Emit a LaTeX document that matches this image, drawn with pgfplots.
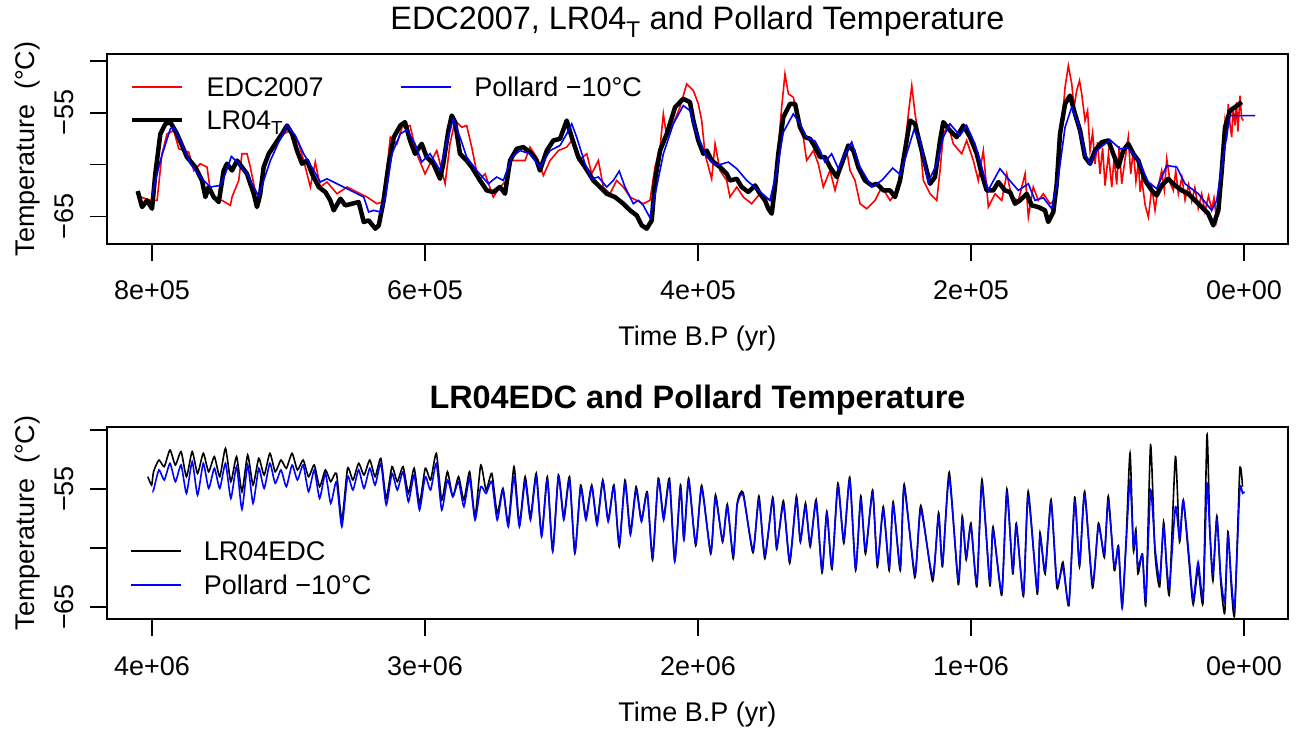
\documentclass[border=0pt]{standalone}
\usepackage{pgfplots}
\pgfplotsset{compat=1.18}
\usepackage{fontspec}
\setmainfont{Liberation Sans}
\begin{document}
\begin{tikzpicture}
\path[use as bounding box] (0,0) rectangle (1301bp,731bp);
\pgfplotsset{
  rstyle/.style={
    scale only axis, width=1181bp,
    font=\fontsize{27bp}{32bp}\selectfont,
    axis line style={line width=1.4bp},
    every tick/.style={line width=1.4bp, black},
    major tick length=17bp,
    tick align=outside,
    tick pos=left,
    x dir=reverse,
    every axis x label/.style={at={(axis description cs:0.5,0)}, anchor=base, yshift=-102bp},
    every axis y label/.style={at={(axis description cs:0,0.5)}, xshift=-72bp, rotate=90, anchor=base},
    xticklabel style={anchor=base, yshift=-39bp, inner sep=0pt},
    yticklabel style={xshift=-16bp, rotate=90, anchor=base, inner sep=0pt},
    xlabel={Time B.P (yr)},
    ylabel={Temperature\ \ (°C)},
    ytick={-65,-60,-55,-50},
    yticklabels={−65,,−55,},
    legend cell align=left,
    legend image code/.code={\draw[##1] (0bp,2.7bp) -- (50bp,2.7bp);},
  }
}
\begin{axis}[rstyle, at={(107bp,487bp)}, anchor=south west, height=190bp,
  xmin=-32.2, xmax=833.0, ymin=-67.63, ymax=-49.33,
  xtick={0,200,400,600,800}, xticklabels={0e+00,2e+05,4e+05,6e+05,8e+05},
  every axis title/.style={at={(axis description cs:0.5,1)}, anchor=base, yshift=24bp, font=\fontsize{32.4bp}{38bp}\selectfont},
  title={EDC2007, LR04\textsubscript{T} and Pollard Temperature},
  legend style={draw=none, fill=none, inner sep=0pt, outer sep=0pt, at={(0.0195,0.8805)}, anchor=north west,
    nodes={inner sep=0pt, text height=20bp, text depth=6bp},
    /tikz/every odd column/.append style={column sep=22bp},
    /tikz/every even column/.append style={column sep=77bp},
    row sep=7bp},
  legend columns=2]
\addlegendimage{red, line width=1.8bp}
\addlegendentry{EDC2007}
\addlegendimage{blue, line width=1.8bp}
\addlegendentry{Pollard −10°C}
\addlegendimage{black, line width=4.5bp}
\addlegendentry{LR04\textsubscript{T}}
% EDC2007
\addplot[red, line width=1.6bp, forget plot] table {
808.6 -63.08
801.2 -63.43
796.3 -63.43
792.7 -58.94
789.0 -57.02
784.1 -56.70
780.4 -58.46
773.1 -58.78
769.4 -60.55
764.6 -59.90
759.7 -60.22
757.3 -62.47
752.4 -63.43
748.7 -63.43
742.6 -63.91
741.4 -63.11
736.5 -61.51
734.1 -58.94
730.4 -58.94
728.0 -60.22
724.5 -62.47
720.7 -63.43
718.2 -60.55
714.5 -58.94
708.4 -57.98
703.5 -57.02
698.7 -56.70
692.5 -57.98
688.9 -59.59
684.0 -62.14
680.4 -59.74
676.7 -62.14
671.8 -61.66
664.5 -62.79
657.1 -62.14
652.2 -62.47
647.4 -62.79
642.5 -63.11
638.8 -63.43
635.2 -63.75
631.5 -63.59
627.8 -60.22
625.4 -57.34
620.5 -57.98
616.8 -56.38
611.0 -56.22
606.1 -58.94
600.0 -60.87
593.9 -59.26
591.4 -58.63
585.3 -61.83
581.7 -57.98
578.0 -55.74
573.1 -56.38
569.5 -56.22
565.8 -58.30
560.9 -61.51
556.0 -60.87
550.0 -63.11
545.1 -62.14
540.1 -61.51
536.5 -59.59
531.7 -59.59
526.7 -59.59
523.1 -58.30
518.2 -59.26
513.3 -61.03
508.4 -59.59
502.3 -58.63
496.2 -58.30
492.5 -57.66
487.7 -59.59
481.5 -58.94
477.9 -60.87
473.0 -59.59
469.4 -62.14
464.5 -62.79
459.6 -61.51
454.7 -62.14
449.8 -63.11
444.9 -63.43
440.1 -63.75
435.2 -63.43
431.5 -60.22
427.8 -58.30
425.4 -55.10
422.9 -57.34
419.3 -56.38
413.2 -54.45
408.3 -52.21
403.4 -52.86
399.8 -54.13
397.3 -55.74
394.9 -58.94
390.0 -61.35
387.5 -57.98
383.9 -60.55
379.0 -61.51
376.6 -63.11
371.6 -62.14
366.8 -63.11
360.7 -63.75
354.6 -62.79
347.3 -63.43
343.6 -62.14
341.2 -58.30
338.7 -54.45
336.3 -51.25
333.8 -53.17
330.2 -53.49
326.5 -55.74
322.9 -57.34
320.4 -59.59
315.5 -58.63
311.9 -59.90
308.2 -62.14
303.3 -60.55
299.6 -62.47
294.7 -59.90
291.1 -58.63
288.6 -60.55
285.0 -61.51
281.3 -63.75
276.4 -64.23
270.3 -63.43
265.4 -62.14
259.3 -63.43
253.3 -62.47
249.6 -59.59
245.9 -55.10
243.4 -52.38
241.0 -55.10
237.4 -57.98
234.9 -61.51
230.0 -62.79
225.1 -63.43
222.7 -60.55
220.3 -57.02
216.6 -56.22
213.0 -57.98
206.8 -58.94
203.2 -57.66
198.3 -59.59
194.7 -61.51
191.0 -58.63
187.3 -64.07
182.4 -62.79
177.5 -63.43
173.8 -60.87
170.2 -63.11
165.3 -63.43
160.4 -60.87
158.0 -65.03
154.4 -62.14
150.7 -63.43
147.0 -62.79
142.1 -63.75
138.5 -63.43
134.8 -58.30
131.1 -52.53
128.7 -50.45
126.2 -52.21
124.5 -54.50
122.6 -52.86
120.5 -51.90
118.9 -53.17
116.5 -55.74
114.6 -54.80
112.8 -58.63
110.9 -56.90
109.2 -59.90
107.3 -57.80
105.5 -60.87
103.6 -58.40
101.8 -62.00
99.3 -58.94
96.9 -62.14
95.1 -59.20
93.3 -61.90
91.4 -58.20
89.6 -61.83
87.3 -59.60
84.8 -57.34
83.0 -60.90
81.1 -58.55
79.2 -61.60
77.4 -59.80
76.1 -62.60
74.9 -61.40
72.4 -63.90
70.1 -65.03
67.5 -62.20
65.2 -64.39
62.8 -62.00
60.3 -60.55
58.4 -62.40
56.6 -59.42
54.0 -61.80
51.8 -62.47
50.0 -60.60
48.1 -62.80
45.5 -61.20
43.2 -63.40
40.6 -61.90
38.3 -63.50
36.0 -62.20
33.5 -64.20
31.0 -62.80
28.6 -64.50
26.0 -63.00
23.7 -64.30
22.0 -63.20
20.0 -65.36
18.0 -63.80
16.3 -61.51
13.9 -55.74
12.5 -56.90
11.5 -54.13
10.2 -56.20
9.0 -57.34
8.0 -54.50
6.6 -56.20
5.5 -54.00
4.5 -56.80
2.9 -53.34
1.8 -55.50
0.5 -55.74
};
% LR04_T
\addplot[black, line width=4.5bp, line join=round, forget plot] table {
810.5 -62.53
807.3 -64.07
803.7 -63.43
800.0 -64.23
797.6 -60.87
793.9 -57.02
790.2 -56.06
786.6 -55.89
781.7 -57.02
774.4 -59.26
768.3 -60.22
763.4 -61.51
760.9 -63.11
758.5 -62.14
754.8 -63.11
751.1 -63.59
747.5 -60.55
745.1 -59.90
741.4 -60.55
737.7 -59.59
734.1 -60.22
730.4 -60.87
725.5 -62.79
723.1 -64.07
720.7 -62.79
718.2 -60.22
714.5 -58.94
709.7 -57.98
704.8 -57.02
701.1 -56.22
697.4 -57.02
693.8 -58.63
690.1 -59.90
686.4 -59.59
682.8 -60.87
677.9 -62.14
673.0 -62.63
669.4 -63.43
666.9 -64.39
662.0 -63.27
658.4 -63.91
653.5 -63.75
648.6 -63.59
644.9 -65.51
641.3 -65.36
636.4 -66.15
633.9 -65.84
630.3 -63.43
626.6 -59.90
622.9 -57.34
618.1 -56.22
614.7 -55.89
611.0 -57.66
607.3 -58.94
602.4 -57.98
598.8 -59.26
593.9 -59.90
589.0 -61.35
586.6 -59.90
582.9 -56.70
580.4 -55.26
578.0 -55.89
574.4 -58.94
569.5 -59.59
565.8 -60.22
559.7 -61.51
554.8 -62.47
550.0 -62.63
545.1 -62.14
541.4 -62.79
537.7 -59.59
532.8 -58.46
528.0 -58.30
523.1 -58.78
518.2 -59.59
515.8 -60.55
510.8 -58.63
506.0 -57.66
501.1 -57.50
496.2 -55.74
492.5 -57.34
487.7 -59.26
482.8 -60.22
476.7 -61.51
471.8 -62.14
466.9 -62.79
460.8 -63.11
454.7 -63.75
449.8 -64.39
444.9 -64.88
441.2 -65.84
437.6 -66.15
433.9 -65.36
431.5 -61.51
427.8 -58.63
422.9 -57.02
416.8 -54.45
410.8 -53.65
405.9 -53.97
403.4 -55.74
399.8 -57.66
396.1 -58.94
393.6 -58.63
390.0 -59.59
383.9 -60.22
379.0 -60.87
376.6 -61.51
371.6 -61.35
368.0 -62.14
363.1 -62.63
358.2 -61.99
354.6 -62.79
350.9 -63.43
348.5 -64.23
346.0 -64.71
343.6 -62.14
341.2 -58.94
337.5 -55.41
332.6 -54.13
328.9 -54.13
325.3 -56.38
321.6 -57.34
317.9 -57.50
314.3 -58.30
310.6 -59.26
307.0 -59.26
303.3 -60.22
298.4 -61.18
294.7 -59.90
289.9 -58.14
286.2 -58.63
282.6 -60.22
277.7 -61.51
272.7 -61.99
269.1 -61.83
264.2 -62.47
259.3 -62.47
255.7 -63.11
252.0 -61.51
248.4 -58.63
244.7 -55.74
241.0 -56.06
237.4 -57.98
233.7 -59.90
230.0 -61.83
226.4 -61.18
222.7 -57.66
220.3 -55.89
215.4 -56.70
210.5 -57.34
205.6 -56.22
200.7 -57.34
195.8 -58.94
192.2 -60.87
188.5 -62.47
183.7 -62.47
180.0 -61.66
175.1 -62.47
171.4 -62.63
167.8 -63.75
164.1 -63.43
159.2 -62.79
155.5 -63.91
150.7 -64.07
145.8 -64.39
143.4 -65.51
139.7 -64.55
137.2 -61.83
134.8 -57.02
131.1 -54.13
127.5 -53.34
123.8 -55.10
120.1 -56.70
116.5 -59.26
112.8 -59.90
109.2 -58.63
104.2 -57.82
99.4 -57.66
95.8 -58.94
92.1 -60.22
88.4 -58.63
84.8 -57.98
81.1 -58.94
77.4 -59.59
72.5 -61.51
67.6 -62.47
64.0 -62.95
60.3 -61.99
55.5 -61.35
50.5 -61.99
45.6 -62.47
40.8 -62.79
35.9 -63.43
31.0 -64.07
26.2 -64.71
22.5 -65.84
18.8 -64.39
16.3 -60.55
13.9 -56.38
10.3 -54.78
6.6 -54.45
1.7 -53.97
};
% Pollard -10
\addplot[blue, line width=1.6bp, forget plot] table {
800.0 -62.95
793.9 -59.59
786.6 -56.54
784.1 -56.38
779.3 -57.66
771.9 -59.90
764.6 -61.18
757.3 -62.14
750.0 -61.99
746.3 -60.87
741.9 -59.20
736.5 -59.90
730.4 -60.87
725.5 -62.14
721.8 -63.05
718.2 -61.51
713.3 -59.59
707.2 -57.82
701.1 -56.22
695.0 -57.18
688.9 -58.94
681.5 -60.55
676.7 -61.66
671.8 -61.35
662.0 -61.99
652.2 -62.63
644.9 -63.11
641.3 -64.55
637.6 -64.39
632.7 -64.55
629.1 -63.11
624.2 -58.94
618.1 -57.02
613.2 -56.63
607.3 -57.98
602.4 -59.74
596.3 -58.94
589.0 -60.55
584.1 -57.82
579.3 -55.58
574.4 -57.34
569.5 -59.26
562.1 -60.55
553.6 -61.83
547.5 -61.18
542.6 -61.51
536.5 -59.26
530.4 -58.63
523.1 -58.94
515.8 -60.22
508.4 -58.63
501.1 -58.14
496.2 -57.02
492.5 -56.06
488.9 -57.34
482.8 -59.90
477.9 -61.35
473.0 -61.18
466.9 -62.14
462.0 -61.51
457.7 -60.61
453.5 -62.14
447.4 -63.75
443.7 -63.43
440.1 -63.91
435.2 -65.10
430.3 -62.14
425.4 -58.94
418.1 -56.06
410.8 -54.30
405.9 -54.78
401.0 -57.02
393.6 -59.26
386.3 -60.07
377.8 -59.74
371.6 -60.38
364.3 -61.51
357.0 -62.31
347.3 -63.43
342.3 -60.55
337.5 -56.86
330.2 -55.10
325.3 -56.06
320.4 -57.34
314.3 -57.72
310.6 -58.63
307.0 -59.74
302.1 -58.94
297.2 -60.38
292.3 -58.94
287.4 -57.82
281.3 -60.22
272.7 -62.14
265.4 -61.51
257.4 -60.32
252.0 -60.93
247.1 -58.94
241.8 -56.63
237.4 -57.66
231.3 -61.66
225.1 -59.90
220.3 -57.34
215.4 -56.06
208.1 -57.18
203.2 -56.22
197.1 -57.98
192.2 -60.22
187.3 -62.47
186.1 -62.14
178.8 -60.38
172.7 -61.35
165.3 -62.47
158.0 -61.83
153.1 -63.43
147.0 -63.17
140.9 -64.23
136.0 -61.18
131.1 -56.38
126.2 -54.45
121.4 -56.06
116.5 -58.94
112.8 -59.90
107.9 -58.63
98.2 -57.60
90.8 -58.46
84.8 -58.37
77.4 -59.59
70.1 -61.66
64.0 -62.31
56.6 -60.07
49.3 -60.22
43.2 -61.83
33.5 -62.79
23.7 -64.39
20.0 -63.43
15.2 -59.26
10.3 -55.26
4.2 -55.26
-8.1 -55.26
};
\end{axis}
\begin{axis}[rstyle, at={(107bp,112bp)}, anchor=south west, height=192bp,
  xmin=-161.2, xmax=4164.8, ymin=-66.02, ymax=-49.75,
  xtick={0,1000,2000,3000,4000}, xticklabels={0e+00,1e+06,2e+06,3e+06,4e+06},
  every axis title/.style={at={(axis description cs:0.5,1)}, anchor=base, yshift=19bp, font=\fontsize{32.4bp}{38bp}\selectfont\bfseries},
  title={LR04EDC and Pollard Temperature},
  legend style={draw=none, fill=none, inner sep=0pt, outer sep=0pt, at={(0.0195,0.4078)}, anchor=north west,
    nodes={inner sep=0pt, text height=20bp, text depth=6bp},
    /tikz/every odd column/.append style={column sep=22bp},
    row sep=8bp}]
\addlegendimage{black, line width=1.8bp}
\addlegendentry{LR04EDC}
\addlegendimage{blue, line width=1.8bp}
\addlegendentry{Pollard −10°C}
% LR04EDC
\addplot[black, line width=1.6bp, smooth, tension=0.35, forget plot] table {
4015.3 -53.96
4001.3 -54.67
3994.2 -53.54
3974.6 -52.55
3955.0 -53.11
3934.0 -51.70
3914.3 -52.97
3893.3 -51.84
3873.7 -53.96
3852.7 -51.84
3833.0 -53.68
3812.0 -51.98
3792.4 -53.54
3771.4 -52.26
3751.7 -53.96
3730.7 -51.56
3711.1 -54.38
3690.1 -52.26
3670.4 -55.23
3649.4 -52.12
3629.8 -54.67
3608.8 -52.41
3589.1 -53.82
3568.1 -51.98
3548.5 -53.54
3527.4 -52.55
3507.8 -53.25
3486.8 -51.98
3467.2 -53.39
3446.1 -52.55
3426.5 -53.96
3405.5 -52.97
3385.9 -54.81
3364.8 -53.39
3345.2 -54.38
3324.2 -53.68
3304.6 -57.63
3283.5 -53.25
3263.9 -54.24
3242.9 -52.83
3223.3 -53.82
3202.2 -52.55
3182.6 -53.96
3161.6 -52.41
3142.0 -55.80
3120.9 -53.11
3101.3 -54.38
3080.3 -53.11
3060.6 -55.37
3039.6 -53.25
3020.0 -56.22
2999.0 -53.25
2979.3 -54.24
2958.3 -51.98
2938.7 -55.94
2917.7 -53.54
2898.0 -55.65
2877.0 -53.96
2857.4 -55.94
2836.4 -53.54
2816.7 -57.35
2795.7 -52.97
2776.1 -55.09
2755.1 -53.68
2735.4 -57.07
2714.4 -54.95
2694.8 -57.91
2673.8 -53.11
2654.1 -57.91
2633.1 -53.96
2613.5 -57.35
2592.4 -53.68
2572.8 -58.90
2551.8 -53.96
2532.2 -60.17
2511.1 -53.82
2491.5 -57.35
2470.5 -53.96
2450.9 -60.46
2429.8 -54.67
2410.2 -57.35
2389.2 -54.67
2369.6 -57.77
2348.6 -54.24
2328.9 -57.63
2307.9 -54.67
2288.3 -59.89
2267.2 -54.24
2247.6 -58.62
2226.6 -54.81
2207.0 -57.63
2185.9 -55.23
2166.3 -61.02
2145.3 -54.10
2125.7 -57.35
2104.6 -54.10
2085.0 -61.02
2064.0 -54.67
2051.5 -59.20
2034.2 -54.10
2008.2 -59.80
1986.5 -54.70
1953.2 -60.50
1935.8 -55.50
1909.8 -59.50
1892.5 -56.30
1870.8 -60.90
1856.3 -56.20
1834.6 -55.30
1798.5 -60.40
1776.8 -55.60
1755.1 -60.90
1726.1 -55.70
1711.7 -60.10
1687.1 -56.00
1664.0 -61.30
1639.4 -55.60
1624.9 -59.50
1606.1 -56.20
1588.8 -59.90
1567.1 -55.90
1545.4 -62.10
1528.0 -56.90
1509.2 -61.80
1487.5 -54.50
1465.8 -59.60
1444.1 -54.00
1422.4 -61.90
1403.6 -55.60
1386.3 -60.50
1360.3 -55.10
1342.9 -61.60
1321.2 -56.50
1299.5 -61.90
1285.1 -56.10
1259.0 -61.90
1244.6 -54.60
1205.5 -62.50
1183.8 -56.40
1140.4 -62.80
1118.7 -57.00
1104.3 -61.60
1079.7 -53.60
1046.4 -63.10
1032.0 -57.30
1017.5 -61.00
1000.2 -57.90
978.5 -63.30
959.7 -54.20
930.7 -63.20
919.2 -58.20
887.3 -64.00
868.5 -55.00
846.9 -62.20
833.8 -57.90
807.8 -64.10
790.4 -55.20
757.2 -63.90
747.1 -58.70
728.3 -62.20
706.6 -55.90
684.9 -63.40
663.2 -61.20
641.5 -64.90
619.8 -55.70
602.4 -61.60
583.6 -55.20
554.7 -63.40
533.0 -57.90
511.3 -60.80
496.9 -55.60
475.0 -61.90
460.0 -59.80
446.3 -64.90
432.0 -59.50
417.3 -51.98
405.0 -60.20
396.0 -58.40
388.4 -62.20
372.0 -60.50
359.5 -64.80
342.1 -51.28
326.0 -60.40
308.9 -63.30
294.4 -57.80
283.0 -61.90
272.7 -63.80
251.0 -52.26
236.0 -59.50
222.1 -56.00
200.0 -61.50
186.0 -64.80
168.0 -61.80
149.8 -64.60
135.4 -50.43
125.0 -58.40
113.7 -62.80
99.3 -57.30
85.0 -62.90
70.4 -65.50
58.7 -58.60
46.0 -63.40
34.1 -65.60
15.3 -53.39
5.2 -54.80
};
% Pollard
\addplot[blue, line width=1.6bp, smooth, tension=0.35, forget plot] table {
3996.0 -55.09
3994.2 -55.09
3974.6 -53.39
3955.0 -54.24
3934.0 -52.83
3914.3 -54.38
3893.3 -52.97
3873.7 -55.37
3852.7 -52.69
3833.0 -55.51
3812.0 -52.83
3792.4 -54.95
3771.4 -53.25
3751.7 -54.95
3730.7 -52.83
3711.1 -55.80
3690.1 -53.11
3670.4 -56.73
3649.4 -52.97
3629.8 -56.22
3608.8 -53.25
3589.1 -54.95
3568.1 -52.83
3548.5 -54.52
3527.4 -53.39
3507.8 -54.81
3486.8 -52.97
3467.2 -54.24
3446.1 -52.97
3426.5 -55.23
3405.5 -53.39
3385.9 -55.80
3364.8 -53.68
3345.2 -56.22
3324.2 -54.38
3304.6 -58.20
3283.5 -53.96
3263.9 -55.09
3242.9 -53.39
3223.3 -54.95
3202.2 -53.25
3182.6 -54.67
3161.6 -52.83
3142.0 -56.36
3120.9 -53.68
3101.3 -55.09
3080.3 -53.54
3060.6 -56.08
3039.6 -53.82
3020.0 -56.78
2999.0 -53.96
2979.3 -55.09
2958.3 -52.83
2938.7 -56.78
2917.7 -54.24
2898.0 -55.65
2877.0 -54.38
2857.4 -56.50
2836.4 -54.10
2816.7 -57.63
2795.7 -54.81
2776.1 -55.37
2755.1 -54.38
2735.4 -57.63
2714.4 -55.09
2694.8 -58.20
2673.8 -53.96
2654.1 -58.20
2633.1 -54.38
2613.5 -57.63
2592.4 -53.96
2572.8 -59.04
2551.8 -54.24
2532.2 -60.32
2511.1 -53.96
2491.5 -57.63
2470.5 -54.24
2450.9 -60.32
2429.8 -54.95
2410.2 -57.63
2389.2 -54.81
2369.6 -58.06
2348.6 -54.38
2328.9 -57.77
2307.9 -54.81
2288.3 -59.61
2267.2 -54.52
2247.6 -58.90
2226.6 -55.09
2207.0 -57.77
2185.9 -55.37
2166.3 -60.74
2145.3 -54.24
2125.7 -57.63
2104.6 -54.38
2085.0 -61.16
2064.0 -54.95
2051.5 -59.33
2034.2 -54.38
2008.2 -59.61
1986.5 -54.95
1953.2 -60.32
1935.8 -55.80
1909.8 -59.33
1892.5 -56.50
1870.8 -60.60
1856.3 -56.36
1834.6 -55.51
1798.5 -60.17
1776.8 -55.94
1755.1 -60.60
1726.1 -55.94
1711.7 -59.89
1687.1 -56.36
1664.0 -61.02
1639.4 -55.94
1624.9 -59.33
1606.1 -56.50
1588.8 -59.61
1567.1 -56.22
1545.4 -61.87
1528.0 -57.07
1509.2 -61.59
1487.5 -54.81
1465.8 -59.33
1444.1 -54.24
1422.4 -61.73
1403.6 -55.94
1386.3 -60.17
1360.3 -55.37
1342.9 -61.30
1321.2 -56.78
1299.5 -61.59
1285.1 -56.36
1259.0 -61.59
1244.6 -54.95
1205.5 -62.15
1183.8 -56.78
1140.4 -62.43
1118.7 -57.35
1104.3 -61.30
1079.7 -54.10
1046.4 -62.72
1032.0 -57.63
1017.5 -60.74
1000.2 -58.20
978.5 -63.00
959.7 -54.67
930.7 -62.86
919.2 -58.48
887.3 -63.71
868.5 -55.37
846.9 -61.87
833.8 -58.20
807.8 -63.85
790.4 -55.65
757.2 -63.56
747.1 -59.04
728.3 -61.87
706.6 -56.22
684.9 -63.00
663.2 -61.59
641.5 -64.69
619.8 -56.08
602.4 -61.30
583.6 -55.51
554.7 -63.00
533.0 -58.20
511.3 -60.46
496.9 -56.08
475.0 -61.60
460.0 -59.90
446.3 -65.12
432.0 -59.80
417.3 -54.24
405.0 -59.80
396.0 -58.80
388.4 -61.59
372.0 -60.60
359.5 -64.41
342.1 -55.09
326.0 -59.90
308.9 -62.72
294.4 -58.20
283.0 -61.50
272.7 -63.28
251.0 -56.50
236.0 -59.20
222.1 -55.94
200.0 -61.00
186.0 -64.41
168.0 -61.20
149.8 -64.27
135.4 -54.52
125.0 -58.70
113.7 -62.15
99.3 -57.63
85.0 -62.40
70.4 -64.60
58.7 -59.04
46.0 -62.80
34.1 -64.98
15.3 -55.09
5.2 -55.37
-2.0 -55.23
};
\end{axis}
\end{tikzpicture}
\end{document}
